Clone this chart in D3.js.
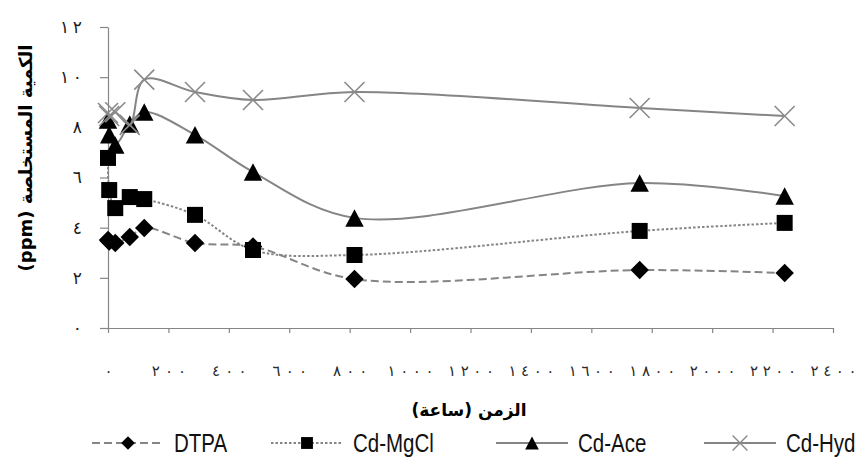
<!DOCTYPE html>
<html>
<head>
<meta charset="utf-8">
<script src="https://cdn.jsdelivr.net/npm/d3@7"></script>
<style>
  body { margin: 0; background: #fff; }
  svg { display: block; }
</style>
</head>
<body>
<svg id="chart" width="859" height="461"></svg>
<script>
// Sampling times (hours) and extracted Cd (ppm) for each extractant
const hours = [0, 4, 24, 72, 120, 288, 480, 816, 1760, 2240];
const dtpa  = [3.51, 3.45, 3.39, 3.63, 3.99, 3.39, 3.25, 1.95, 2.31, 2.19];
const mgcl  = [6.78, 5.50, 4.78, 5.22, 5.14, 4.51, 3.11, 2.91, 3.87, 4.19];
const ace   = [8.29, 7.70, 7.30, 8.13, 8.61, 7.70, 6.22, 4.39, 5.78, 5.26];
const hyd   = [8.57, 8.45, 8.60, 8.10, 9.90, 9.41, 9.09, 9.41, 8.77, 8.45];
const seriesNames = ["DTPA", "Cd-MgCl", "Cd-Ace", "Cd-Hyd"];

const xTicks = [0, 200, 400, 600, 800, 1000, 1200, 1400, 1600, 1800, 2000, 2200, 2400];
const yTicks = [0, 2, 4, 6, 8, 10, 12];
const xTitle = "الزمن (ساعة)";
const yTitle = "الكمية المستخلصة (ppm)";

// Eastern Arabic numerals for tick labels
const arabicDigits = "٠١٢٣٤٥٦٧٨٩";
const toArabic = v => String(v).replace(/\d/g, d => arabicDigits[+d]);

const svg = d3.select("#chart");
const axisColor = "#868686";
const lineColor = "#858585";

const x = d3.scaleLinear().domain([0, 2400]).range([108, 833]);
const y = d3.scaleLinear().domain([0, 12]).range([328, 27]);

// Marker shapes
const diamond = { draw(ctx, size) { const r = Math.sqrt(size / 2);
  ctx.moveTo(0, -r); ctx.lineTo(r, 0); ctx.lineTo(0, r); ctx.lineTo(-r, 0); ctx.closePath(); } };
const triangle = { draw(ctx, size) { const w = Math.sqrt(size), h = w * 0.95;
  ctx.moveTo(0, -h / 2); ctx.lineTo(w / 2, h / 2); ctx.lineTo(-w / 2, h / 2); ctx.closePath(); } };
const cross = { draw(ctx, size) { const r = Math.sqrt(size) / 2;
  ctx.moveTo(-r, -r); ctx.lineTo(r, r); ctx.moveTo(-r, r); ctx.lineTo(r, -r); } };

const series = [
  { name: seriesNames[0], values: dtpa, dash: "8,4", symbol: diamond, size: 170, fill: "#000", stroke: "none" },
  { name: seriesNames[1], values: mgcl, dash: "2.5,2", symbol: d3.symbolSquare, size: 256, fill: "#000", stroke: "none" },
  { name: seriesNames[2], values: ace, dash: null, symbol: triangle, size: 340, fill: "#000", stroke: "none" },
  { name: seriesNames[3], values: hyd, dash: null, symbol: cross, size: 400, fill: "none", stroke: "#8a8a8a" }
];

// Spread the digits of a label to a fixed pitch per character
function spreadDigits(sel, pitch) {
  sel.each(function() {
    const n = this.textContent.length;
    if (n > 1) d3.select(this).attr("textLength", pitch * n).attr("lengthAdjust", "spacing");
  });
}

// Y axis
const yAxis = svg.append("g")
  .attr("transform", `translate(${x(0)},0)`)
  .call(d3.axisLeft(y).tickValues(yTicks).tickSize(8).tickSizeOuter(0).tickPadding(18).tickFormat(toArabic));
yAxis.select(".domain").attr("stroke", axisColor).attr("stroke-width", 1.2);
yAxis.selectAll(".tick line").attr("stroke", axisColor).attr("stroke-width", 1.2);
yAxis.selectAll(".tick text")
  .attr("font-family", "DejaVu Sans, sans-serif").attr("font-size", 17)
  .attr("fill", "#1a1a1a")
  .call(spreadDigits, 11);

// X axis
const xAxis = svg.append("g")
  .attr("transform", `translate(0,${y(0)})`)
  .call(d3.axisBottom(x).tickValues(xTicks).tickSize(5).tickSizeOuter(0).tickPadding(32).tickFormat(toArabic));
xAxis.select(".domain").attr("stroke", axisColor).attr("stroke-width", 1.2);
xAxis.selectAll(".tick line").attr("stroke", axisColor).attr("stroke-width", 1.2);
xAxis.selectAll(".tick text")
  .attr("font-family", "DejaVu Sans, sans-serif").attr("font-size", 15)
  .attr("fill", "#2a2a2a")
  .call(spreadDigits, 11.5);

// Series lines and markers
const line = d3.line().curve(d3.curveCatmullRom.alpha(0.5));
series.forEach(s => {
  const pts = hours.map((h, i) => [x(h), y(s.values[i])]);
  svg.append("path")
    .attr("d", line(pts))
    .attr("fill", "none")
    .attr("stroke", lineColor)
    .attr("stroke-width", 2)
    .attr("stroke-dasharray", s.dash);
  svg.append("g").selectAll("path")
    .data(pts)
    .join("path")
    .attr("transform", d => `translate(${d[0]},${d[1]})`)
    .attr("d", d3.symbol().type(s.symbol).size(s.size))
    .attr("fill", s.fill)
    .attr("stroke", s.stroke)
    .attr("stroke-width", 1.6);
});

// Axis titles
svg.append("text")
  .attr("x", 469).attr("y", 416)
  .attr("text-anchor", "middle").attr("direction", "rtl")
  .attr("font-family", "DejaVu Sans, sans-serif").attr("font-weight", "bold").attr("font-size", 17)
  .attr("fill", "#000")
  .text(xTitle);

svg.append("text")
  .attr("transform", "translate(32,158) rotate(-90)")
  .attr("text-anchor", "middle").attr("direction", "rtl")
  .attr("font-family", "DejaVu Sans, sans-serif").attr("font-weight", "bold").attr("font-size", 18)
  .attr("fill", "#000")
  .text(yTitle);

// Legend
const legendCenters = [128, 307, 532, 740];
const legendY = 443;
const legend = svg.append("g");
series.forEach((s, i) => {
  const cx = legendCenters[i];
  legend.append("line")
    .attr("x1", cx - 36).attr("x2", cx + 36)
    .attr("y1", legendY).attr("y2", legendY)
    .attr("stroke", lineColor).attr("stroke-width", 2)
    .attr("stroke-dasharray", s.dash);
  legend.append("path")
    .attr("transform", `translate(${cx},${legendY})`)
    .attr("d", d3.symbol().type(s.symbol).size(s.size * 0.55))
    .attr("fill", s.fill).attr("stroke", s.stroke).attr("stroke-width", 1.4);
  // condensed legend lettering
  legend.append("text")
    .attr("transform", `translate(${cx + 46},${legendY + 9}) scale(0.82,1)`)
    .attr("font-family", "Liberation Sans, Arial, sans-serif")
    .attr("font-size", 25).attr("fill", "#111")
    .text(s.name);
});
</script>
</body>
</html>
